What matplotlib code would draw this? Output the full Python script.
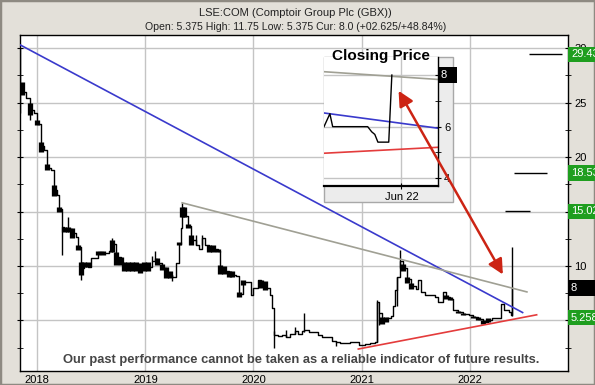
import matplotlib
matplotlib.use('Agg')
import matplotlib.pyplot as plt
from matplotlib.patches import Rectangle, FancyArrowPatch
import matplotlib.transforms as mtransforms

plt.rcParams['font.family'] = ['Liberation Sans', 'DejaVu Sans']

# Price history (decimal years), close and candle bodies
dates = [2017.84, 2017.86, 2017.90, 2017.93, 2017.97, 2018.00, 2018.03, 2018.06, 2018.09, 2018.13,
         2018.15, 2018.18, 2018.20, 2018.23, 2018.25, 2018.28, 2018.32, 2018.36, 2018.38, 2018.40,
         2018.43, 2018.47, 2018.50, 2018.53, 2018.56, 2018.61, 2018.66, 2018.69, 2018.73, 2018.77,
         2018.80, 2018.84, 2018.88, 2018.91, 2018.95, 2018.99, 2019.02, 2019.06, 2019.09, 2019.11,
         2019.15, 2019.19, 2019.23, 2019.25, 2019.28, 2019.31, 2019.33, 2019.34, 2019.36, 2019.39,
         2019.42, 2019.47, 2019.50, 2019.52, 2019.55, 2019.59, 2019.63, 2019.67, 2019.69, 2019.73,
         2019.77, 2019.80, 2019.84, 2019.87, 2019.90, 2019.94, 2019.98, 2020.00, 2020.04, 2020.07,
         2020.11, 2020.15, 2020.17, 2020.19, 2020.23, 2020.26, 2020.30, 2020.34, 2020.38, 2020.41,
         2020.45, 2020.47, 2020.51, 2020.55, 2020.60, 2020.63, 2020.69, 2020.73, 2020.76, 2020.80,
         2020.85, 2020.89, 2020.94, 2020.98, 2021.03, 2021.08, 2021.12, 2021.14, 2021.16, 2021.19,
         2021.23, 2021.27, 2021.29, 2021.31, 2021.33, 2021.36, 2021.38, 2021.42, 2021.46, 2021.50,
         2021.52, 2021.55, 2021.59, 2021.64, 2021.68, 2021.71, 2021.75, 2021.78, 2021.82, 2021.85,
         2021.89, 2021.94, 2021.99, 2022.03, 2022.08, 2022.12, 2022.17, 2022.21, 2022.26, 2022.29,
         2022.32, 2022.36, 2022.38, 2022.39]
close = [26.5, 26.0, 25.4, 24.3, 24.0, 23.0, 21.0, 20.6, 19.0, 18.8,
         17.0, 16.5, 15.2, 13.6, 13.4, 13.4, 13.0, 12.7, 11.7, 9.8,
         10.0, 9.9, 10.7, 10.7, 11.3, 11.2, 11.4, 12.0, 10.8, 10.3,
         9.8, 9.9, 9.9, 10.0, 9.8, 9.9, 9.9, 10.5, 10.6, 10.3,
         9.8, 9.4, 9.2, 9.0, 10.3, 12.0, 13.5, 15.0, 14.6, 13.7,
         12.4, 11.9, 11.6, 12.6, 11.9, 11.6, 11.6, 11.4, 9.8, 9.5,
         9.3, 9.2, 9.1, 7.4, 8.5, 8.5, 7.3, 8.0, 8.7, 8.4,
         8.0, 7.3, 6.1, 3.7, 3.6, 3.7, 3.5, 3.8, 4.0, 3.8,
         4.0, 4.1, 3.9, 3.9, 3.7, 3.5, 3.5, 3.1, 3.0, 2.9,
         2.9, 3.0, 3.0, 2.75, 2.8, 2.9, 3.05, 6.7, 5.7, 5.0,
         5.2, 5.4, 6.3, 7.8, 9.0, 10.5, 9.8, 8.8, 8.2, 7.9,
         8.7, 7.6, 7.3, 7.3, 7.2, 6.7, 7.6, 7.2, 7.0, 6.0,
         5.8, 5.6, 5.5, 5.3, 5.1, 4.9, 5.0, 5.2, 5.2, 6.5,
         6.0, 5.8, 5.5, 8.0]
body_lo = [26.5, 25.7, 25.4, 23.9, 24.0, 22.9, 20.5, 20.6, 18.8, 18.8,
           16.4, 16.5, 15.0, 13.6, 13.1, 13.1, 12.6, 12.7, 11.5, 9.2,
           9.9, 9.9, 10.7, 10.7, 11.0, 11.0, 11.4, 11.3, 10.1, 10.1,
           9.5, 9.5, 9.5, 9.5, 9.4, 9.5, 9.5, 10.5, 10.6, 10.1,
           9.6, 8.9, 8.9, 9.0, 10.3, 11.9, 13.5, 14.5, 14.5, 13.5,
           11.9, 11.9, 11.6, 12.6, 11.9, 11.3, 11.3, 11.3, 9.3, 9.3,
           9.0, 9.0, 9.1, 7.2, 8.3, 8.5, 7.3, 8.0, 8.7, 8.0,
           7.8, 7.3, 6.1, 3.7, 3.6, 3.7, 3.5, 3.8, 4.0, 3.8,
           4.0, 4.1, 3.9, 3.9, 3.7, 3.5, 3.5, 3.1, 3.0, 2.9,
           2.9, 3.0, 3.0, 2.75, 2.8, 2.9, 3.05, 6.7, 5.7, 4.7,
           4.9, 5.4, 6.3, 7.8, 9.0, 10.5, 9.5, 8.4, 7.9, 7.9,
           8.7, 7.6, 7.3, 7.3, 7.2, 6.7, 7.6, 7.0, 6.9, 6.0,
           5.7, 5.5, 5.5, 5.2, 5.0, 4.7, 4.9, 5.2, 5.2, 6.5,
           6.0, 5.8, 5.5, 8.0]
body_hi = [26.5, 26.9, 25.4, 25.0, 24.0, 23.4, 21.4, 20.6, 19.4, 18.8,
           17.4, 16.5, 15.4, 13.6, 13.6, 13.6, 13.5, 12.7, 11.9, 10.4,
           10.4, 10.4, 10.7, 10.7, 11.4, 11.4, 11.4, 12.4, 11.3, 10.8,
           10.4, 10.4, 10.4, 10.4, 10.3, 10.4, 10.4, 10.5, 10.6, 10.7,
           10.2, 9.9, 9.5, 9.0, 10.3, 12.2, 13.5, 15.4, 15.4, 13.9,
           12.8, 11.9, 11.6, 12.6, 11.9, 11.9, 11.9, 11.6, 10.1, 10.0,
           9.5, 9.5, 9.1, 7.6, 8.7, 8.5, 7.3, 8.0, 8.7, 8.7,
           8.6, 7.3, 6.1, 3.7, 3.6, 3.7, 3.5, 3.8, 4.0, 3.8,
           4.0, 4.1, 3.9, 3.9, 3.7, 3.5, 3.5, 3.1, 3.0, 2.9,
           2.9, 3.0, 3.0, 2.75, 2.8, 2.9, 3.05, 6.7, 5.7, 5.35,
           5.35, 5.4, 6.3, 7.8, 9.0, 10.5, 10.2, 9.0, 8.4, 7.9,
           8.7, 7.6, 7.3, 7.3, 7.2, 6.7, 7.6, 7.3, 7.2, 6.0,
           5.9, 5.7, 5.5, 5.4, 5.3, 5.0, 5.2, 5.2, 5.2, 6.5,
           6.0, 5.8, 5.5, 8.0]

# high/low wicks
wick_dates = [2017.84, 2017.93, 2018.23, 2018.28, 2018.40, 2018.69, 2019.06, 2019.09, 2019.25, 2019.34,
              2019.47, 2019.52, 2020.19, 2020.30, 2020.38, 2020.47, 2020.76, 2021.14, 2021.16, 2021.33,
              2021.36, 2022.39]
wick_lo = [24.0, 23.4, 11.0, 13.1, 8.7, 11.3, 10.5, 10.6, 8.6, 14.5,
           11.9, 11.9, 2.45, 3.5, 3.8, 3.9, 2.7, 3.0, 4.6, 6.3,
           9.8, 5.375]
wick_hi = [30.0, 25.0, 13.6, 14.5, 10.4, 12.6, 10.9, 11.4, 9.2, 15.8,
           12.8, 12.8, 4.0, 4.1, 4.4, 5.7, 3.1, 6.9, 5.7, 9.0,
           11.5, 11.75]

# trend lines (start, end)
blue_x, blue_y = [2017.84, 2022.49], [30.3, 5.73]
grey_x, grey_y = [2019.34, 2022.53], [15.8, 7.62]
red_x, red_y = [2020.97, 2022.62], [2.38, 5.52]

# target levels on the right
levels = [29.43, 18.53, 15.02]
level_start = [2022.55, 2022.41, 2022.33]
level_end = [2022.85, 2022.72, 2022.56]
level_labels = ['29.43', '18.53', '15.02', '5.258']
level_label_vals = [29.43, 18.53, 15.02, 5.258]
current = 8

years = [2018, 2019, 2020, 2021, 2022]
price_ticks = [5, 10, 15, 20, 25, 30]
price_labels = ['', '10', '', '20', '25', '30']

# inset: closing price, day of year 2022
in_days = [127.0, 128.9, 129.8, 141.1, 142.4, 143.4, 144.4, 147.9, 148.9]
in_close = [6.0, 6.5, 6.0, 6.0, 5.8, 5.7, 5.4, 5.4, 8.0]
in_x = [127.0, 163.8]
in_grey = [8.13, 7.83]
in_blue = [6.53, 5.94]
in_red = [4.97, 5.2]

arrow_a = (2021.33, 26.3)
arrow_b = (2022.32, 9.0)

W, H = 595, 385
fig = plt.figure(figsize=(W / 100, H / 100), dpi=100)
fig.patch.set_facecolor('#e3e0d9')
fig.add_artist(Rectangle((0, 0), 1, 1, transform=fig.transFigure, fill=False,
                         ec='#8e8a82', lw=2.5, zorder=0))

ax = fig.add_axes([20 / W, 1 - 370.6 / H, 548 / W, 335.6 / H])
ax.set_facecolor('white')
ax.set_xlim(2017.84, 2022.91)
ax.set_ylim(0.4, 31.2)

ax.set_xticks(years)
ax.set_xticklabels([str(y) for y in years], fontsize=8)
ax.set_yticks(price_ticks)
ax.set_yticklabels(price_labels)
ax.set_yticks([2.5, 7.5, 12.5, 17.5, 22.5, 27.5], minor=True)
ax.yaxis.tick_right()
ax.tick_params(axis='y', which='both', direction='inout', length=5, labelsize=8, pad=2,
               left=True, right=True)
ax.tick_params(axis='x', length=0, pad=3)
ax.grid(True, color='#c4c4c4', lw=1)
for s in ax.spines.values():
    s.set_color('black')
    s.set_linewidth(1)

# candles
ax.step(dates, close, where='post', color='black', lw=1, zorder=3)
ax.vlines(dates, body_lo, body_hi, color='black', lw=3.8, zorder=3)
ax.vlines(wick_dates, wick_lo, wick_hi, color='black', lw=1, zorder=3)

ax.plot(blue_x, blue_y, color='#3a3acc', lw=1.2, zorder=4)
ax.plot(grey_x, grey_y, color='#a0a094', lw=1.2, zorder=4)
ax.plot(red_x, red_y, color='#e43c3c', lw=1.2, zorder=4)

ax.hlines(levels, level_start, level_end, color='black', lw=1, zorder=4)

trans = mtransforms.blended_transform_factory(ax.transAxes, ax.transData)
for lab, v in zip(level_labels, level_label_vals):
    ax.text(1.0055, v, lab, transform=trans, fontsize=8, color='white', va='center', ha='left',
            bbox=dict(boxstyle='square,pad=0.25', fc='#1f9e1f', ec='none'), zorder=6)
ax.text(1.0055, current, str(current) + '     ', transform=trans, fontsize=8, color='white',
        va='center', ha='left', bbox=dict(boxstyle='square,pad=0.25', fc='black', ec='none'), zorder=6)

fig.text(0.506, 1 - 360.4 / H, 'Our past performance cannot be taken as a reliable indicator of future results.',
         ha='center', va='center', fontsize=9.3, fontweight='bold', color='#454545')

fig.text(0.497, 1 - 12.5 / H, 'LSE:COM (Comptoir Group Plc (GBX))', ha='center', va='center',
         fontsize=8, color='#222222')
fig.text(0.497, 1 - 27.3 / H, 'Open: 5.375 High: 11.75 Low: 5.375 Cur: 8.0 (+02.625/+48.84%)',
         ha='center', va='center', fontsize=7.6, color='#222222')

# inset
fig.add_artist(Rectangle((324 / W, 1 - 202 / H), 129 / W, 145 / H, transform=fig.transFigure,
                         fc='#ececec', ec='#a8a8a8', lw=1, zorder=2))
axi = fig.add_axes([324 / W, 1 - 186 / H, 114 / W, 129 / H], zorder=3)
axi.set_facecolor('white')
axi.set_xlim(in_x)
axi.set_ylim(3.70, 8.70)
axi.plot(in_x, in_grey, color='#a0a094', lw=1.2)
axi.plot(in_x, in_blue, color='#3a3acc', lw=1.2)
axi.plot(in_x, in_red, color='#e43c3c', lw=1.2)
axi.plot(in_days, in_close, color='black', lw=1)
axi.set_xticks([152])
axi.set_xticklabels(['Jun 22'], fontsize=8)
axi.set_yticks([4, 6, 8])
axi.set_yticklabels(['4', '6', ''], fontsize=8)
axi.set_yticks([5, 7], minor=True)
axi.yaxis.tick_right()
axi.tick_params(axis='y', which='both', direction='inout', length=5, pad=2)
axi.tick_params(axis='x', direction='inout', length=5, pad=2)
axi.grid(True, color='#c4c4c4', lw=1)
axi.spines['left'].set_visible(False)
axi.spines['top'].set_visible(False)
axi.spines['bottom'].set_linewidth(1.6)
axi.spines['right'].set_linewidth(1)
axi.text(1.03, 8, '8  ', transform=mtransforms.blended_transform_factory(axi.transAxes, axi.transData),
         fontsize=8, color='white', va='center', ha='left',
         bbox=dict(boxstyle='square,pad=0.25', fc='black', ec='none'))

fig.text(381 / W, 1 - 56 / H, 'Closing Price', ha='center', va='center', fontsize=11,
         fontweight='bold', zorder=5)

arrow = FancyArrowPatch(arrow_a, arrow_b, transform=ax.transData,
                        arrowstyle='<|-|>,head_length=9,head_width=4.5', mutation_scale=1,
                        color='#cc2414', lw=1.8, zorder=6)
fig.add_artist(arrow)

fig.savefig('out.png', dpi=100, facecolor=fig.get_facecolor())
